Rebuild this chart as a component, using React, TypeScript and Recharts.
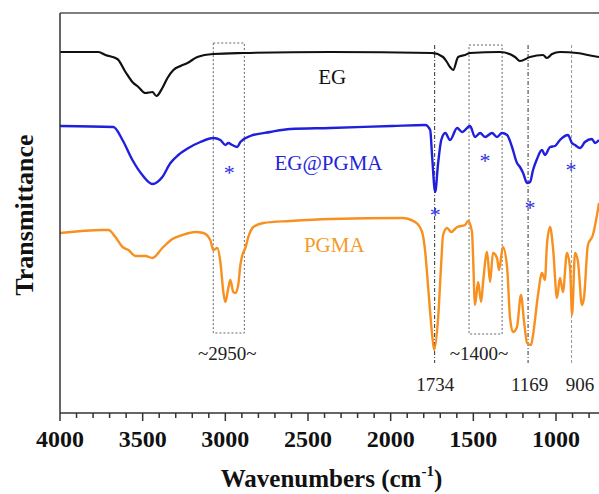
import React from 'react';
import {
  ComposedChart,
  Line,
  XAxis,
  YAxis,
  ReferenceArea,
  ReferenceLine,
  ReferenceDot,
} from 'recharts';

// ---- data (wavenumber cm^-1, transmittance a.u.) ----
const egSpectrum: [number, number][] = [
  [4000, 361], [3767, 361], [3725, 358], [3653, 354], [3604, 341], [3562, 331],
  [3526, 326], [3483, 320], [3441, 321], [3417, 317], [3381, 325], [3350, 335],
  [3314, 343], [3271, 347], [3229, 350], [3169, 356], [3073, 359], [2891, 360],
  [2366, 361], [1749, 360], [1683, 356], [1660, 351], [1641, 346], [1622, 343],
  [1592, 356], [1550, 358], [1520, 360], [1339, 361], [1248, 356], [1218, 352],
  [1157, 356], [1079, 358], [1055, 355], [1024, 359], [976, 361], [873, 360],
  [777, 357], [740, 356],
];

const egPgmaSpectrum: [number, number][] = [
  [4000, 287], [3677, 286], [3622, 273], [3562, 253], [3502, 238], [3441, 229],
  [3381, 236], [3332, 250], [3284, 258], [3223, 265], [3151, 271], [3073, 275],
  [3030, 273], [3000, 268], [2982, 270], [2958, 268], [2928, 266], [2909, 271],
  [2849, 277], [2728, 281], [2607, 284], [2366, 285], [1991, 287], [1791, 288],
  [1761, 283], [1749, 256], [1731, 221], [1713, 250], [1694, 273], [1670, 280],
  [1641, 273], [1598, 285], [1568, 281], [1520, 287], [1490, 276], [1459, 280],
  [1429, 276], [1387, 280], [1357, 276], [1327, 280], [1296, 278], [1266, 266],
  [1236, 250], [1218, 246], [1199, 240], [1175, 230], [1157, 231], [1139, 243],
  [1115, 254], [1085, 263], [1067, 258], [1036, 266], [1006, 267], [976, 273],
  [928, 278], [904, 270], [885, 268], [855, 265], [825, 271], [783, 274],
  [764, 270], [740, 273],
];

const pgmaSpectrum: [number, number][] = [
  [4000, 180], [3743, 183], [3707, 183], [3665, 176], [3622, 166], [3586, 163],
  [3544, 157], [3483, 157], [3441, 155], [3381, 165], [3320, 174], [3260, 178],
  [3181, 181], [3133, 180], [3091, 173], [3073, 163], [3048, 165], [3030, 151],
  [3012, 121], [3000, 111], [2982, 125], [2970, 133], [2952, 121], [2940, 120],
  [2922, 128], [2909, 148], [2897, 158], [2879, 165], [2861, 176], [2831, 186],
  [2770, 190], [2607, 192], [2366, 194], [1931, 195], [1852, 191], [1810, 181],
  [1791, 161], [1773, 125], [1749, 78], [1737, 63], [1713, 95], [1694, 151],
  [1683, 178], [1659, 185], [1634, 181], [1598, 186], [1550, 188], [1532, 192],
  [1508, 181], [1502, 158], [1490, 108], [1471, 131], [1453, 111], [1441, 131],
  [1417, 161], [1399, 131], [1381, 160], [1357, 155], [1345, 143], [1321, 166],
  [1296, 146], [1278, 95], [1260, 81], [1236, 86], [1212, 118], [1193, 91],
  [1175, 70], [1151, 68], [1139, 78], [1109, 118], [1085, 140], [1067, 133],
  [1055, 168], [1036, 186], [1018, 165], [994, 115], [976, 135], [958, 121],
  [934, 160], [915, 145], [903, 98], [885, 160], [867, 151], [843, 108],
  [831, 115], [807, 168], [777, 178], [752, 198], [740, 210],
];

const majorTicks = [4000, 3500, 3000, 2500, 2000, 1500, 1000];
const allTicks = [
  4000, 3900, 3800, 3700, 3600, 3500, 3400, 3300, 3200, 3100, 3000, 2900, 2800,
  2700, 2600, 2500, 2400, 2300, 2200, 2100, 2000, 1900, 1800, 1700, 1600, 1500,
  1400, 1300, 1200, 1100, 1000, 900, 800,
];

const boxedRegions = [
  { x1: 3073, x2: 2885, y1: 80, y2: 370 },
  { x1: 1526, x2: 1326, y1: 79, y2: 368 },
];
const peakLines = [
  { w: 1734, dark: true },
  { w: 1169, dark: true },
  { w: 906, dark: false },
];
const peakLineTop = 368;
const peakLineBottom = 50;

const seriesNames = [
  { text: 'EG', w: 2354, t: 336, color: '#111111' },
  { text: 'EG@PGMA', w: 2376, t: 250, color: '#2424d8' },
  { text: 'PGMA', w: 2341, t: 168, color: '#f59a2a' },
];
const regionLabels = [
  { text: '~2950~', w: 2988, t: 59 },
  { text: '~1400~', w: 1465, t: 59 },
  { text: '1734', w: 1731, t: 28 },
  { text: '1169', w: 1160, t: 28 },
  { text: '906', w: 855, t: 28 },
];
const asterisks = [
  { w: 2976, t: 245 },
  { w: 1731, t: 203 },
  { w: 1429, t: 257 },
  { w: 1157, t: 210 },
  { w: 909, t: 248 },
];

const toPoints = (s: [number, number][]) => s.map(([w, t]) => ({ w, t }));

const SERIF = "'Liberation Serif', 'Times New Roman', Times, serif";
const AXIS = '#333333';

const TextShape = (text: string, color: string, size: number) => (props: any) => (
  <text
    x={props.cx}
    y={props.cy + size * 0.33}
    textAnchor="middle"
    fill={color}
    fontSize={size}
    fontFamily={SERIF}
  >
    {text}
  </text>
);

const StarShape = (props: any) => (
  <text
    x={props.cx}
    y={props.cy + 12}
    textAnchor="middle"
    fill="#3030e0"
    fontSize={22}
    fontFamily={SERIF}
  >
    *
  </text>
);

const XTick = (props: any) => {
  const { x, y, payload } = props;
  const v = payload.value;
  const major = majorTicks.includes(v);
  return (
    <g>
      <line x1={x} x2={x} y1={y} y2={y + (major ? 8 : 5)} stroke={AXIS} strokeWidth={1.5} />
      {major && (
        <text
          x={x}
          y={y + 34}
          textAnchor="middle"
          fontSize={24}
          fontWeight="bold"
          fontFamily={SERIF}
          fill="#111"
        >
          {v}
        </text>
      )}
    </g>
  );
};

const XTitle = (props: any) => {
  const vb = props.viewBox;
  return (
    <text
      x={vb.x + vb.width / 2 + 2}
      y={vb.y + 74}
      textAnchor="middle"
      fontSize={25}
      fontWeight="bold"
      fontFamily={SERIF}
      fill="#111"
    >
      Wavenumbers (cm
      <tspan dy={-11} fontSize={15}>-1</tspan>
      <tspan dy={11}>)</tspan>
    </text>
  );
};

const YTitle = (props: any) => {
  const vb = props.viewBox;
  const cx = vb.x + 24;
  const cy = vb.y + vb.height / 2 + 2;
  return (
    <text
      x={cx}
      y={cy}
      transform={`rotate(-90, ${cx}, ${cy})`}
      textAnchor="middle"
      dominantBaseline="central"
      fontSize={26}
      fontWeight="bold"
      fontFamily={SERIF}
      fill="#111"
    >
      Transmittance
    </text>
  );
};

export default function App() {
  return (
    <div style={{ position: 'absolute', left: 0, top: 0, width: 599, height: 494, background: '#fff', overflow: 'hidden' }}>
      <ComposedChart width={599} height={494} margin={{ top: 13, right: 0, bottom: 0, left: 0 }}>
        <XAxis
          type="number"
          dataKey="w"
          domain={[740, 4000]}
          reversed
          allowDataOverflow
          ticks={allTicks}
          interval={0}
          tick={<XTick />}
          tickLine={false}
          tickSize={0}
          tickMargin={0}
          height={81}
          axisLine={{ stroke: AXIS, strokeWidth: 1.5 }}
          label={<XTitle />}
        />
        <YAxis
          type="number"
          domain={[0, 400]}
          allowDataOverflow
          tick={false}
          tickLine={false}
          width={60}
          axisLine={{ stroke: AXIS, strokeWidth: 1.5 }}
          label={<YTitle />}
        />
        <ReferenceLine y={400} stroke="#555" strokeWidth={1.5} />
        {boxedRegions.map((r, i) => (
          <ReferenceArea
            key={`box${i}`}
            x1={r.x1}
            x2={r.x2}
            y1={r.y1}
            y2={r.y2}
            fill="none"
            fillOpacity={0}
            stroke="#666"
            strokeWidth={1}
            strokeDasharray="2 2"
          />
        ))}
        {peakLines.map((p, i) => (
          <ReferenceLine
            key={`pl${i}`}
            segment={[{ x: p.w, y: peakLineTop }, { x: p.w, y: peakLineBottom }]}
            stroke={p.dark ? '#333' : '#999'}
            strokeWidth={1}
            strokeDasharray={p.dark ? '4 2 1 2' : '3 2'}
          />
        ))}
        <Line data={toPoints(egSpectrum)} dataKey="t" type="monotone" stroke="#111111" strokeWidth={2.2} dot={false} isAnimationActive={false} />
        <Line data={toPoints(egPgmaSpectrum)} dataKey="t" type="monotone" stroke="#1f1fdc" strokeWidth={2.4} dot={false} isAnimationActive={false} />
        <Line data={toPoints(pgmaSpectrum)} dataKey="t" type="monotone" stroke="#f7901e" strokeWidth={2.4} dot={false} isAnimationActive={false} />
        {seriesNames.map((s, i) => (
          <ReferenceDot key={`sn${i}`} x={s.w} y={s.t} r={0} shape={TextShape(s.text, s.color, 21)} />
        ))}
        {regionLabels.map((s, i) => (
          <ReferenceDot key={`rl${i}`} x={s.w} y={s.t} r={0} shape={TextShape(s.text, '#222', 19)} />
        ))}
        {asterisks.map((s, i) => (
          <ReferenceDot key={`as${i}`} x={s.w} y={s.t} r={0} shape={StarShape} />
        ))}
      </ComposedChart>
    </div>
  );
}
